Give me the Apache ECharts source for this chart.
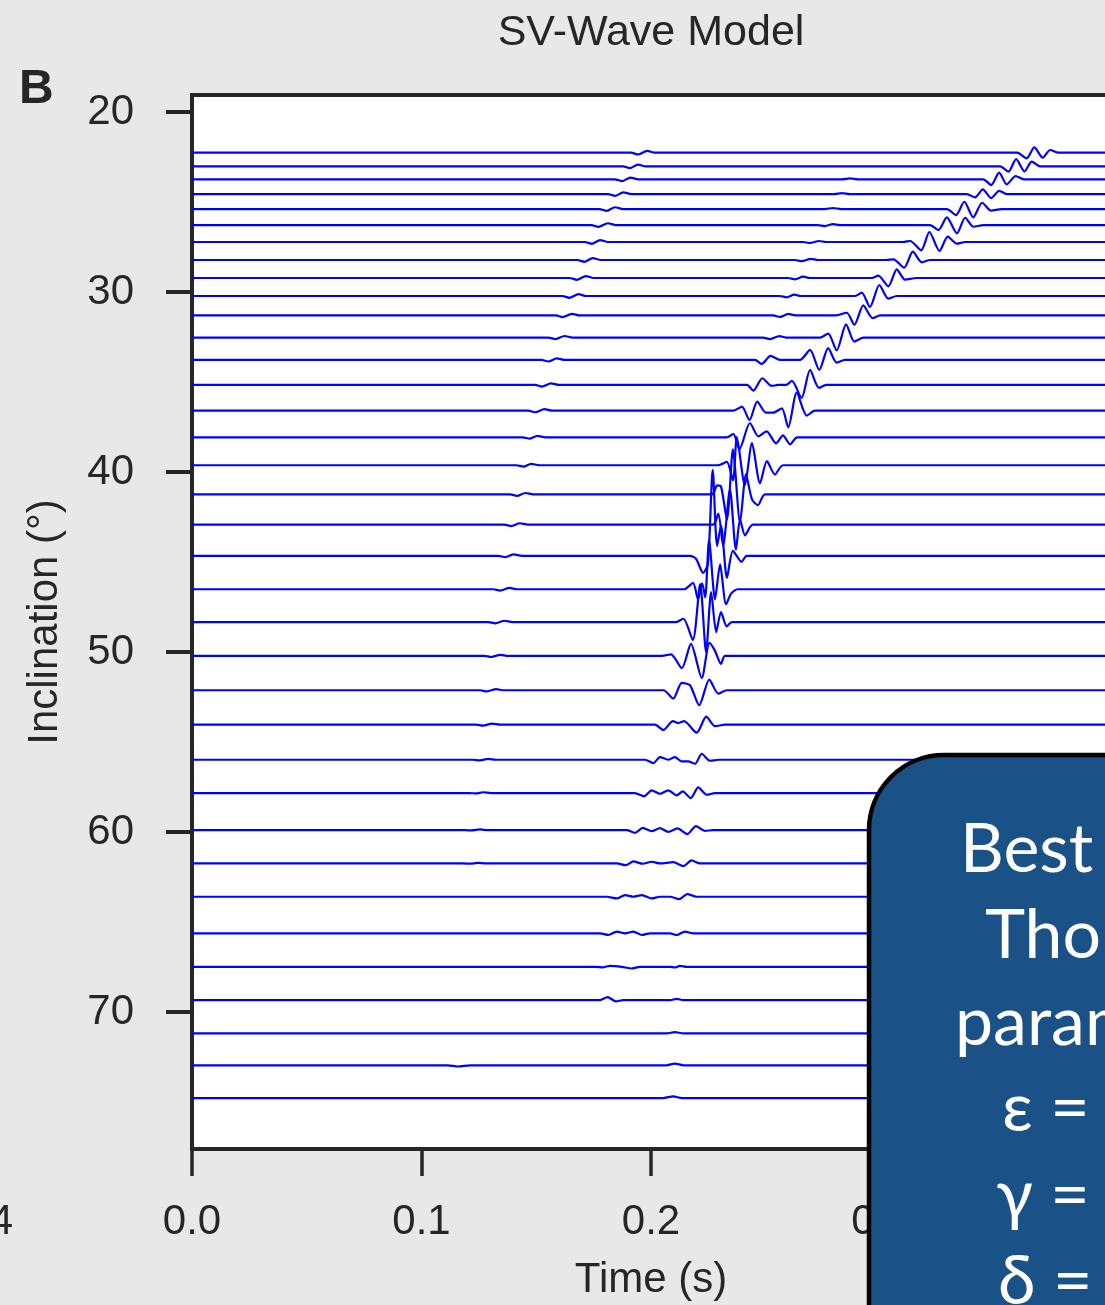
<!DOCTYPE html>
<html>
<head>
<meta charset="utf-8">
<title>SV-Wave Model</title>
<script src="https://cdn.jsdelivr.net/npm/echarts@6.0.0/dist/echarts.min.js"></script>
<style>
  html, body { margin: 0; padding: 0; background: #e8e8e8; }
  #chart { width: 1105px; height: 1305px; }
</style>
</head>
<body>
<div id="chart"></div>
<script>
// inclination of each trace (deg), top to bottom
const inclination = [22.26, 23.02, 23.74, 24.56, 25.39, 26.28, 27.22, 28.22, 29.22, 30.22,
  31.30, 32.53, 33.77, 35.16, 36.59, 38.07, 39.62, 41.24, 42.92, 44.65,
  46.51, 48.33, 50.21, 52.12, 54.03, 55.98, 57.83, 59.89, 61.74, 63.59,
  65.62, 67.48, 69.33, 71.18, 72.95, 74.77];

// wiggle vertices per trace: [time (s), amplitude]; positive amplitude plots downward
const weakArrival = [
  [[.1913,0],[.1943,1.8],[.1983,-1.8],[.2017,0]],
  [[.1878,0],[.1908,1.8],[.1943,-1.8],[.1978,0]],
  [[.1843,0],[.1874,1.8],[.1910,-1.8],[.1944,0]],
  [[.1813,0],[.1843,1.8],[.1879,-1.8],[.1914,0]],
  [[.1776,0],[.1807,1.8],[.1843,-1.8],[.1878,0]],
  [[.1740,0],[.1771,1.8],[.1812,-1.8],[.1847,0]],
  [[.1711,0],[.1742,1.8],[.1778,-1.8],[.1813,0]],
  [[.1679,0],[.1709,1.8],[.1746,-1.8],[.1781,0]],
  [[.1646,0],[.1676,1.8],[.1716,-1.8],[.1750,0]],
  [[.1614,0],[.1644,1.8],[.1684,-1.8],[.1718,0]],
  [[.1585,0],[.1615,1.6],[.1655,-1.6],[.1689,0]],
  [[.1553,0],[.1584,1.6],[.1623,-1.6],[.1658,0]],
  [[.1523,0],[.1553,1.6],[.1589,-1.6],[.1624,0]],
  [[.1495,0],[.1525,1.6],[.1564,-1.6],[.1599,0]],
  [[.1465,0],[.1496,1.6],[.1535,-1.6],[.1570,0]],
  [[.1441,0],[.1471,1.4],[.1505,-1.4],[.1539,0]],
  [[.1413,0],[.1444,1.4],[.1478,-1.4],[.1513,0]],
  [[.1386,0],[.1416,1.4],[.1452,-1.4],[.1487,0]],
  [[.1361,0],[.1391,1.4],[.1428,-1.4],[.1463,0]],
  [[.1335,0],[.1365,1.4],[.1402,-1.4],[.1437,0]],
  [[.1313,0],[.1343,1.3],[.1383,-1.3],[.1417,0]],
  [[.1291,0],[.1322,1.3],[.1361,-1.3],[.1396,0]],
  [[.1274,0],[.1304,1.1],[.1343,-1.1],[.1378,0]],
  [[.1255,0],[.1285,1.1],[.1325,-1.1],[.1359,0]],
  [[.1238,0],[.1268,1],[.1307,-1],[.1342,0]],
  [[.1224,0],[.1255,0.6],[.1290,-0.9],[.1325,0]],
  [[.1207,0],[.1238,0.4],[.1268,-0.8],[.1303,0]],
  [[.1189,0],[.1220,0.3],[.1255,-0.7],[.1290,0]],
  [[.1181,0],[.1211,0.2],[.1246,-0.5],[.1281,0]],
  [], [], [], [], [],
  [[.1115,0],[.1159,1.2],[.1211,0]],
  []
];

const midArrival = [
  [], [],
  [[.2832,0],[.2867,-1],[.2902,0]],
  [[.2798,0],[.2832,-1],[.2867,0]],
  [[.2758,0],[.2793,-1],[.2828,0]],
  [[.2728,0],[.2758,1],[.2793,-1],[.2823,0]],
  [[.2662,0],[.2693,1],[.2732,-1],[.2763,0]],
  [[.2628,0],[.2657,1.2],[.2697,-1.2],[.2728,0]],
  [[.2597,0],[.2628,1.3],[.2663,-1.3],[.2693,0]],
  [[.2562,0],[.2591,1.3],[.2624,-1.3],[.2654,0]],
  [[.2532,0],[.2562,1.5],[.2598,-1.5],[.2628,0]],
  [[.2488,0],[.2519,1.5],[.2559,-1.5],[.2588,0]],
  [[.2453,0],[.2482,4],[.2521,-4],[.2562,0]],
  [[.2418,0],[.2446,5.7],[.2485,-6.7],[.2526,1],[.2553,0]],
  [], [], [], [], [], [], [], [], [], [], [], [], [], [], [], [], [], [], [], [], [], []
];

const mainArrival = [
  [[.3595,0],[.3637,5.7],[.3670,-5.3],[.3707,5],[.3739,-2.7],[.3775,0]],
  [[.3521,0],[.3557,5.3],[.3591,-7.3],[.3627,5],[.3659,-4.7],[.3695,0]],
  [[.3448,0],[.3482,5.7],[.3517,-6.7],[.3550,5],[.3589,-3.3],[.3625,0]],
  [[.3376,0],[.3412,3.3],[.3446,-4.7],[.3482,4],[.3517,-3.3],[.3550,0]],
  [[.3289,0],[.3329,6],[.3365,-7.3],[.3404,8.3],[.3443,-6.3],[.3482,1.7],[.3528,0]],
  [[.3216,0],[.3252,5],[.3289,-7.7],[.3333,8.3],[.3369,-7.3],[.3405,1.7],[.3448,0]],
  [[.3098,0],[.3129,-1],[.3177,8.3],[.3213,-10],[.3257,9],[.3293,-5.3],[.3333,1.7],[.3369,0]],
  [[.3024,0],[.3056,-0.7],[.3103,7.7],[.3141,-8.3],[.3180,2.3],[.3216,0]],
  [[.2963,0],[.2990,-2.3],[.3034,8.3],[.3071,-8.7],[.3107,1.7],[.3158,0]],
  [[.2889,0],[.2918,-3.3],[.2954,11],[.2995,-11],[.3034,2.7],[.3071,0]],
  [[.2802,0],[.2853,-2.7],[.2886,9.3],[.2925,-10],[.2966,2.7],[.2998,0]],
  [[.2736,0],[.2772,-4],[.2809,12.7],[.2850,-13.3],[.2886,4],[.2925,0]],
  [[.2649,0],[.2693,-10],[.2733,10],[.2772,-11.7],[.2809,2.7],[.2845,0]],
  [[.2588,0],[.2614,-4],[.2656,13],[.2693,-15],[.2732,3],[.2763,0]],
  [[.2359,0],[.2396,-4],[.2429,9.3],[.2463,-9],[.2501,2],[.2533,2],[.2570,-2.3],[.2598,16.7],[.2635,-18],[.2679,5],[.2715,0]],
  [[.2330,0],[.2359,-3.3],[.2385,12],[.2431,-14.3],[.2468,-1],[.2504,-6],[.2545,6],[.2575,-2],[.2606,7],[.2637,0]],
  [[.2292,0],[.2330,-3.3],[.2357,15],[.2374,-28],[.2409,20],[.2440,-22],[.2475,18],[.2505,-4],[.2540,9.3],[.2575,0]],
  [[.2266,0],[.2288,-9],[.2305,-8],[.2331,25],[.2357,-45],[.2388,28],[.2414,-20],[.2440,5],[.2466,10.7],[.2497,0]],
  [[.2270,0],[.2293,-11],[.2314,21],[.2344,-35],[.2370,25],[.2388,-5],[.2410,10.7],[.2444,0]],
  [[.2170,0],[.2196,3],[.2227,17],[.2248,8],[.2269,-86],[.2288,-10],[.2305,-30],[.2331,22],[.2357,-5],[.2395,6],[.2417,0]],
  [[.2144,0],[.2183,-6.3],[.2205,10],[.2223,-6],[.2236,8],[.2253,-49],[.2279,10],[.2301,-25],[.2327,15],[.2349,4.3],[.2378,0]],
  [[.2109,0],[.2141,-3.3],[.2182,18],[.2214,-38],[.2240,30],[.2262,-30],[.2284,10],[.2305,-10],[.2330,4.3],[.2352,0]],
  [[.2048,0],[.2087,-1.5],[.2134,12.3],[.2174,-12],[.2221,22],[.2255,-13],[.2279,-5],[.2305,8],[.2323,0]],
  [[.2054,0],[.2097,8.3],[.2134,-7.3],[.2170,-5],[.2210,15],[.2254,-10.7],[.2293,3.3],[.2330,0]],
  [[.2017,0],[.2054,5.3],[.2095,-3.5],[.2119,-1.5],[.2144,-3.5],[.2199,8],[.2241,-8],[.2279,1.5],[.2323,0]],
  [[.1974,0],[.2010,3.3],[.2039,-2.7],[.2075,0],[.2104,-2.7],[.2134,1.7],[.2162,1.7],[.2192,4],[.2221,-6],[.2257,1],[.2293,0]],
  [[.1930,0],[.1970,3.3],[.2003,-2.7],[.2039,0.7],[.2075,-2.7],[.2112,2.3],[.2138,-1.7],[.2173,5],[.2206,-5.7],[.2243,1.7],[.2279,0]],
  [[.1894,0],[.1930,2.7],[.1964,-2.3],[.2003,1],[.2039,-2],[.2075,1.7],[.2115,-1.7],[.2158,4],[.2196,-4],[.2235,0.7],[.2271,0]],
  [[.1851,0],[.1890,1.7],[.1923,-2],[.1964,0.3],[.2003,-1.7],[.2039,0],[.2097,-1.3],[.2141,2.7],[.2177,-3],[.2214,0]],
  [[.1807,0],[.1851,1.7],[.1887,-1.7],[.1923,0],[.1960,-1.7],[.2003,1.7],[.2039,0],[.2083,0],[.2123,2.3],[.2158,-2.7],[.2199,0]],
  [[.1778,0],[.1814,1.7],[.1851,-1.7],[.1887,0],[.1923,-1.7],[.1960,1.7],[.1996,0],[.2083,0],[.2112,1.7],[.2148,-1.7],[.2184,0]],
  [[.1763,0],[.1792,0.5],[.1821,-1],[.1872,0],[.1916,1.7],[.1952,0],[.2083,0],[.2104,0.7],[.2126,-1],[.2156,0]],
  [[.1749,0],[.1778,0],[.1811,-3],[.1847,1.3],[.1879,0],[.2083,0],[.2112,-1.3],[.2141,0]],
  [[.2068,0],[.2104,-1.3],[.2141,0]],
  [[.2068,0],[.2104,-1.7],[.2141,0]],
  [[.2054,0],[.2097,-1.7],[.2134,0]]
];

const timeTicks = [0, 0.1, 0.2, 0.3, 0.4];
const inclinationTicks = [20, 30, 40, 50, 60, 70];
const boxLines = ['Best fit', 'Thomsen', 'parameters', 'ε =', 'γ =', 'δ ='];

const gain = 1 / 18; // amplitude -> degrees
const tMax = 0.4;
const ink = '#262626';
const font = "'Liberation Sans', Arial, sans-serif";

const series = inclination.map((base, i) => {
  const pts = weakArrival[i].concat(midArrival[i], mainArrival[i]).sort((a, b) => a[0] - b[0]);
  const data = [[0, base]]
    .concat(pts.map(p => [p[0], base + p[1] * gain]))
    .concat([[tMax, base]]);
  return {
    type: 'line',
    data: data,
    symbol: 'none',
    smooth: 0.25,
    silent: true,
    clip: true,
    lineStyle: { color: '#0000ff', width: 2.2 },
    z: 2
  };
});

const boxX = [960, 985, 955, 1002, 996, 998];
const graphic = [
  { type: 'text', x: 651, y: 33, style: { text: 'SV-Wave Model', font: '43px ' + font, fill: ink, align: 'center', verticalAlign: 'middle' } },
  { type: 'text', x: 19, y: 90, style: { text: 'B', font: 'bold 48px ' + font, fill: ink, align: 'left', verticalAlign: 'middle' } },
  { type: 'text', x: 13, y: 1222, style: { text: '0.4', font: '42px ' + font, fill: ink, align: 'right', verticalAlign: 'middle' } },
  { type: 'rect', x: 869, y: 755, z: 100, shape: { width: 700, height: 800, r: 75 }, style: { fill: '#1a5186', stroke: '#000', lineWidth: 4.5 } }
];
boxLines.forEach((s, k) => {
  graphic.push({
    type: 'text', x: boxX[k], y: 850 + k * 86.4, z: 101,
    style: { text: s, font: '68px Lato, "Open Sans", sans-serif', fill: '#fff', align: 'left', verticalAlign: 'middle' }
  });
});

const chart = echarts.init(document.getElementById('chart'), null, { renderer: 'canvas' });
chart.setOption({
  backgroundColor: '#e8e8e8',
  animation: false,
  grid: {
    left: 192, top: 95, width: 918, height: 1054,
    show: true, backgroundColor: '#ffffff', borderColor: ink, borderWidth: 4,
    containLabel: false, outerBoundsMode: 'none'
  },
  xAxis: {
    type: 'value', min: 0, max: tMax, interval: 0.1,
    name: 'Time (s)', nameLocation: 'middle', nameGap: 110,
    nameTextStyle: { fontSize: 42, color: ink, fontFamily: font },
    axisLine: { show: false },
    axisTick: { show: true, length: 27, lineStyle: { color: ink, width: 3.5 }, customValues: timeTicks },
    axisLabel: { fontSize: 42, color: ink, fontFamily: font, margin: 52, customValues: timeTicks, formatter: v => v.toFixed(1) },
    splitLine: { show: false }
  },
  yAxis: {
    type: 'value', inverse: true, min: 19.056, max: 77.6,
    name: 'Inclination (°)', nameLocation: 'middle', nameGap: 126,
    nameTextStyle: { fontSize: 42, color: ink, fontFamily: font },
    axisLine: { show: false },
    axisTick: { show: true, length: 26, lineStyle: { color: ink, width: 4 }, customValues: inclinationTicks },
    axisLabel: { fontSize: 42, color: ink, fontFamily: font, margin: 58, customValues: inclinationTicks },
    splitLine: { show: false }
  },
  graphic: graphic,
  series: series
});
</script>
</body>
</html>
